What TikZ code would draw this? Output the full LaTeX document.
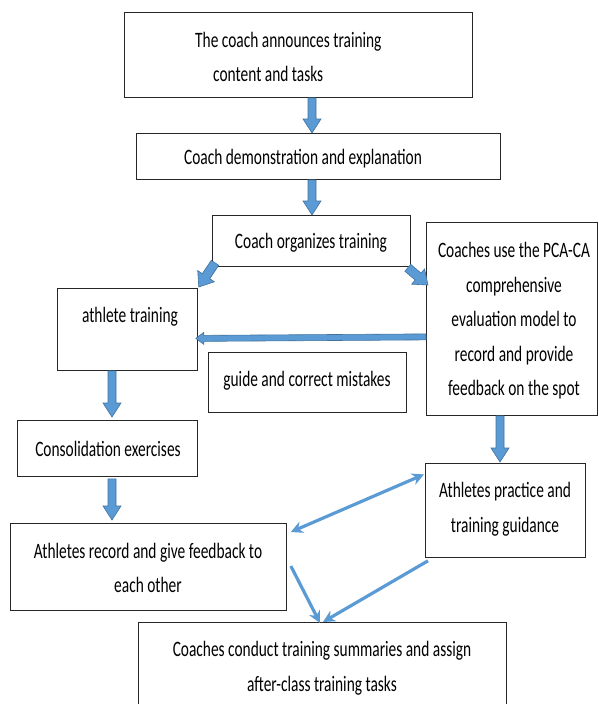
\documentclass[tikz,border=0pt]{standalone}
\usepackage{fontspec}
\setmainfont{Carlito}[FakeStretch=0.7]
\usetikzlibrary{calc,arrows.meta}
\definecolor{arrfill}{HTML}{5B9BD5}
\definecolor{arredge}{HTML}{41719C}
\newcommand\barrow[5]{% from, to, half shaft, half head, head length
  \path (#2) coordinate (tmpB) (#1) coordinate (tmpA) ($(tmpB)!#5!(tmpA)$) coordinate (tmpC);
  \draw[blockarr] ($(tmpA)!#3!90:(tmpB)$) -- ($(tmpC)!#3!90:(tmpB)$) -- ($(tmpC)!#4!90:(tmpB)$) -- (tmpB)
     -- ($(tmpC)!#4!-90:(tmpB)$) -- ($(tmpC)!#3!-90:(tmpB)$) -- ($(tmpA)!#3!-90:(tmpB)$) -- cycle;}
\begin{document}
\begin{tikzpicture}[x=1pt,y=-1pt,
  box/.style={draw=black!85, line width=0.8pt, inner sep=0pt, anchor=north west},
  txt/.style={font=\fontsize{22}{34.5}\selectfont, align=center, inner sep=0pt},
  blockarr/.style={fill=arrfill, draw=arredge, line width=0.6pt, line join=miter},
  thinarr/.style={draw=arrfill, line width=3.2pt, -{Stealth[length=12pt,width=12pt]}},
  dblarr/.style={draw=arrfill, line width=3.2pt, {Stealth[length=12pt,width=12pt]}-{Stealth[length=12pt,width=12pt]}}]
\useasboundingbox (0,0) rectangle (598,704);
% boxes
\node[box, minimum width=348pt, minimum height=85pt] (top) at (124,12) {};
\node[box, minimum width=364pt, minimum height=46pt] (demo) at (136,133) {};
\node[box, minimum width=198pt, minimum height=51pt] (org) at (212,215) {};
\node[box, minimum width=140pt, minimum height=82pt] (ath) at (57,288) {};
\node[box, minimum width=171pt, minimum height=193pt] (pca) at (426,222) {};
\node[box, minimum width=198pt, minimum height=60pt] (guide) at (208,352) {};
\node[box, minimum width=180pt, minimum height=56pt] (cons) at (17,420) {};
\node[box, minimum width=160pt, minimum height=94pt] (prac) at (425,463) {};
\node[box, minimum width=276pt, minimum height=87pt] (rec) at (10,523) {};
\node[box, minimum width=368pt, minimum height=95pt] (summ) at (138,622) {};
% texts
\node[txt, align=left, anchor=west] (ttop) at (195,57) {The coach announces training\\\hspace*{18pt}content and tasks};
\node[txt] (tdemo) at (303,159) {Coach demonstration and explanation};
\node[txt] (torg) at (311,243) {Coach organizes training};
\node[txt] (tath) at (130,317) {athlete training};
\node[txt] (tpca) at (514,321) {Coaches use the PCA-CA\\comprehensive\\evaluation model to\\record and provide\\feedback on the spot};
\node[txt] (tguide) at (307,381) {guide and correct mistakes};
\node[txt] (tcons) at (108,449) {Consolidation exercises};
\node[txt] (tprac) at (505,509) {Athletes practice and\\training guidance};
\node[txt] (trec) at (148,568) {Athletes record and give feedback to\\each other};
\node[txt] (tsumm) at (322,668) {Coaches conduct training summaries and assign\\after-class training tasks};
% block arrows
\barrow{$(top.south west)+(188,0)$}{$(demo.north west)+(176,0)$}{4pt}{9pt}{14pt}
\barrow{$(demo.south west)+(176,0)$}{$(org.north west)+(100,0)$}{4pt}{9pt}{14pt}
\barrow{$(org.south west)+(3,-4)$}{$(ath.north east)+(1,-1)$}{4.5pt}{10pt}{13pt}
\barrow{$(org.south east)+(-3,1)$}{$(pca.north west)+(2,63)$}{4.5pt}{10pt}{13pt}
\barrow{$(pca.west)+(0,18)$}{$(ath.east)+(-2,9)$}{3pt}{6pt}{8pt}
\barrow{$(ath.south west)+(55,0)$}{$(cons.north west)+(95,-3)$}{4pt}{9pt}{14pt}
\barrow{$(pca.south west)+(74,0)$}{$(prac.north west)+(75,-1)$}{4pt}{9pt}{14pt}
\barrow{$(cons.south west)+(95,2)$}{$(rec.north west)+(102,-3)$}{4pt}{9pt}{14pt}
% thin arrows
\draw[dblarr] ($(rec.north east)+(4,9)$) -- ($(prac.west)+(-1,-36)$);
\draw[thinarr] ($(rec.north east)+(4,43)$) -- ($(summ.north west)+(182,1)$);
\draw[thinarr] ($(prac.south west)+(3,3)$) -- ($(summ.north west)+(185,0)$);
\end{tikzpicture}
\end{document}
